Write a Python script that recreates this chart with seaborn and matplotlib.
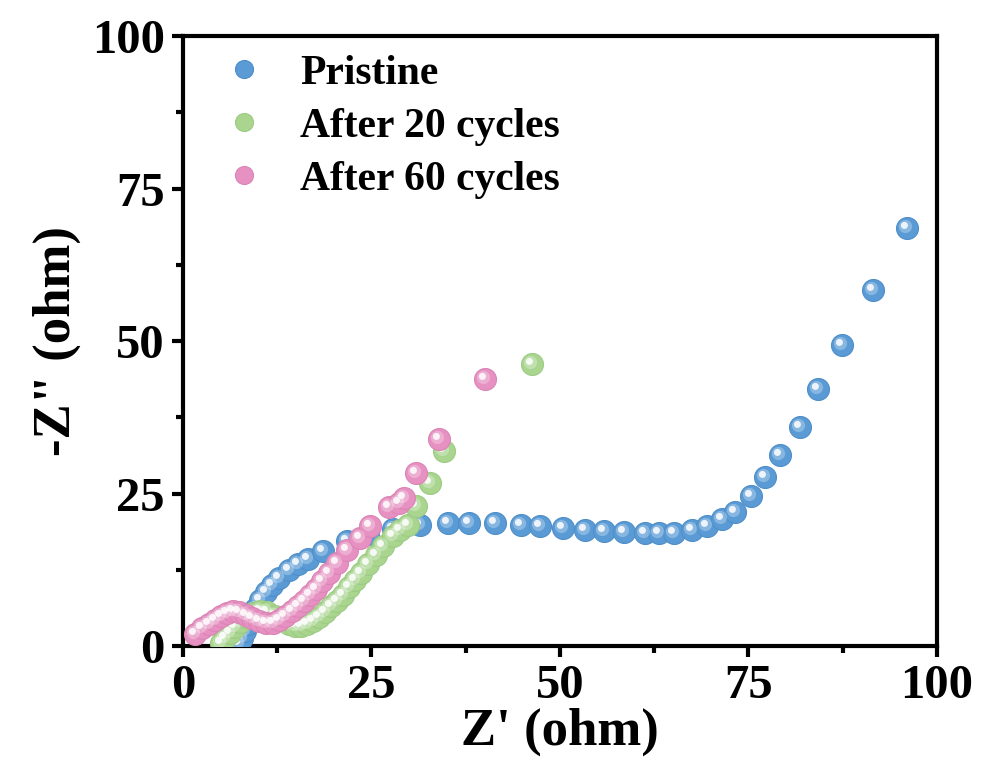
import numpy as np
import pandas as pd
import matplotlib
matplotlib.use("Agg")
import matplotlib.pyplot as plt
import seaborn as sns
from matplotlib.path import Path
from matplotlib.lines import Line2D
from matplotlib.legend_handler import HandlerTuple
from matplotlib.ticker import MultipleLocator

# ---------------- data ----------------
series_names = ["Pristine", "After 20 cycles", "After 60 cycles"]

pristine_x = [7.4, 7.8, 8.2, 8.6, 9.1, 9.6, 10.2, 11.0, 11.8, 12.7, 14.0, 15.3, 16.6, 18.6,
              21.7, 24.5, 27.8, 31.5, 35.2, 37.9, 41.4, 44.8, 47.3, 50.4, 53.3, 55.8, 58.5,
              61.3, 63.1, 65.1, 67.5, 69.5, 71.5, 73.2, 75.3, 77.2, 79.2, 81.8, 84.3, 87.4,
              91.5, 96.0]
pristine_y = [0.3, 1.3, 2.4, 3.6, 4.9, 6.1, 7.5, 8.9, 10.0, 11.1, 12.4, 13.4, 14.3, 15.6,
              17.2, 18.4, 19.2, 19.8, 20.1, 20.1, 20.1, 19.9, 19.6, 19.3, 19.0, 18.9, 18.7,
              18.6, 18.6, 18.6, 19.0, 19.7, 20.8, 22.0, 24.6, 27.7, 31.3, 35.9, 42.2, 49.4,
              58.4, 68.6]

c20_x = [5.0, 5.6, 6.2, 6.9, 7.6, 8.4, 9.3, 10.2, 11.2, 12.2, 13.1, 14.0, 14.8, 15.6, 16.4,
         17.2, 18.0, 18.8, 19.6, 20.4, 21.2, 22.0, 22.8, 23.6, 24.6, 25.6, 26.6, 27.8, 28.8,
         29.8, 30.9, 32.8, 34.6, 46.3]
c20_y = [0.5, 1.3, 2.2, 3.1, 4.0, 4.8, 5.4, 5.8, 5.6, 5.0, 4.2, 3.6, 3.3, 3.3, 3.6,
         4.1, 4.8, 5.6, 6.5, 7.4, 8.4, 9.6, 10.8, 12.0, 13.4, 14.9, 16.4, 18.1, 19.0,
         19.8, 23.0, 26.8, 31.9, 46.2]

c60_x = [1.6, 2.5, 3.4, 4.2, 5.0, 5.8, 6.6, 7.4, 8.3, 9.2, 10.1, 11.0, 11.9, 12.8, 13.6,
         14.4, 15.2, 16.0, 16.8, 17.6, 18.5, 19.4, 20.4, 21.7, 23.5, 24.8, 27.3, 28.6, 29.3,
         30.9, 34.0, 40.0]
c60_y = [2.0, 2.9, 3.6, 4.3, 4.9, 5.4, 5.8, 5.6, 5.1, 4.6, 4.1, 3.8, 3.8, 4.3, 5.0,
         5.8, 6.6, 7.4, 8.3, 9.3, 10.6, 12.0, 13.6, 15.7, 17.7, 19.6, 22.8, 23.4, 24.3,
         28.4, 34.0, 43.7]

x_ticks = [0, 25, 50, 75, 100]
y_ticks = [0, 25, 50, 75, 100]

colors = ["#5a9bd5", "#a9d58f", "#e691c1"]
edge_colors = ["#4f8ec8", "#9ccb83", "#da85b5"]

df = pd.concat([
    pd.DataFrame({"x": pristine_x, "y": pristine_y, "series": series_names[0]}),
    pd.DataFrame({"x": c20_x, "y": c20_y, "series": series_names[1]}),
    pd.DataFrame({"x": c60_x, "y": c60_y, "series": series_names[2]}),
], ignore_index=True)

# ---------------- style ----------------
sns.set_theme(style="ticks")
plt.rcParams["font.family"] = ["Liberation Serif", "DejaVu Serif"]
plt.rcParams["font.weight"] = "bold"
plt.rcParams["axes.labelweight"] = "bold"
for key in ["text.color", "axes.labelcolor", "xtick.color", "ytick.color", "axes.edgecolor"]:
    plt.rcParams[key] = "black"


def offset_circle(cx, cy, r):
    c = Path.circle((cx, cy), r)
    verts = np.vstack([[[0.5, 0.0]], c.vertices])
    codes = np.concatenate([[Path.MOVETO], c.codes])
    return Path(verts, codes)


glow_marker = offset_circle(-0.09, 0.09, 0.30)
spot_marker = offset_circle(-0.14, 0.14, 0.16)

fig = plt.figure(figsize=(9.81, 7.84), dpi=100)
ax = fig.add_axes([0.1865, 0.176, 0.7685, 0.778])

S = 250
for name, col, ec in zip(series_names, colors, edge_colors):
    sub = df[df["series"] == name]
    sns.scatterplot(data=sub, x="x", y="y", ax=ax, color=col, s=S, marker="o",
                    edgecolor=ec, linewidth=0.8, legend=False, zorder=3)
    sns.scatterplot(data=sub, x="x", y="y", ax=ax, color="white", s=S, marker=glow_marker,
                    alpha=0.28, linewidth=0, legend=False, zorder=3)
    sns.scatterplot(data=sub, x="x", y="y", ax=ax, color="white", s=S, marker=spot_marker,
                    alpha=0.85, linewidth=0, legend=False, zorder=3)

ax.set_xlim(0, 100)
ax.set_ylim(0, 100)
ax.set_xticks(x_ticks)
ax.set_yticks(y_ticks)
ax.xaxis.set_minor_locator(MultipleLocator(12.5))
ax.yaxis.set_minor_locator(MultipleLocator(12.5))
ax.tick_params(axis="both", which="major", direction="out", length=8, width=3,
               labelsize=35, pad=5, top=False, right=False, colors="black")
ax.tick_params(axis="both", which="minor", direction="out", length=5, width=3,
               top=False, right=False, colors="black")
for lab in ax.get_xticklabels() + ax.get_yticklabels():
    lab.set_fontweight("bold")
for sp in ax.spines.values():
    sp.set_linewidth(3)
    sp.set_color("black")
    sp.set_visible(True)

ax.set_xlabel("Z' (ohm)", fontsize=38, fontweight="bold", labelpad=0, color="black")
ax.set_ylabel('-Z" (ohm)', fontsize=38, fontweight="bold", labelpad=8, color="black")

handles = []
for col, ec in zip(colors, edge_colors):
    h1 = Line2D([], [], ls="", marker="o", ms=13, markerfacecolor=col,
                markeredgecolor=ec, markeredgewidth=0.8)
    h2 = Line2D([], [], ls="", marker=glow_marker, ms=13, markerfacecolor="white",
                markeredgewidth=0, alpha=0.28)
    h3 = Line2D([], [], ls="", marker=spot_marker, ms=13, markerfacecolor="white",
                markeredgewidth=0, alpha=0.85)
    handles.append((h1, h2, h3))

leg = ax.legend(handles, series_names, handler_map={tuple: HandlerTuple(ndivide=None)},
                loc="upper left", bbox_to_anchor=(0.0535, 0.997), frameon=False,
                prop={"family": ["Liberation Serif"], "weight": "bold", "size": 30},
                handletextpad=0.1, labelspacing=0.36, handlelength=1.34, borderaxespad=0.0,
                borderpad=0.4)
for t in leg.get_texts():
    t.set_color("black")

fig.savefig("out.png", dpi=100)
